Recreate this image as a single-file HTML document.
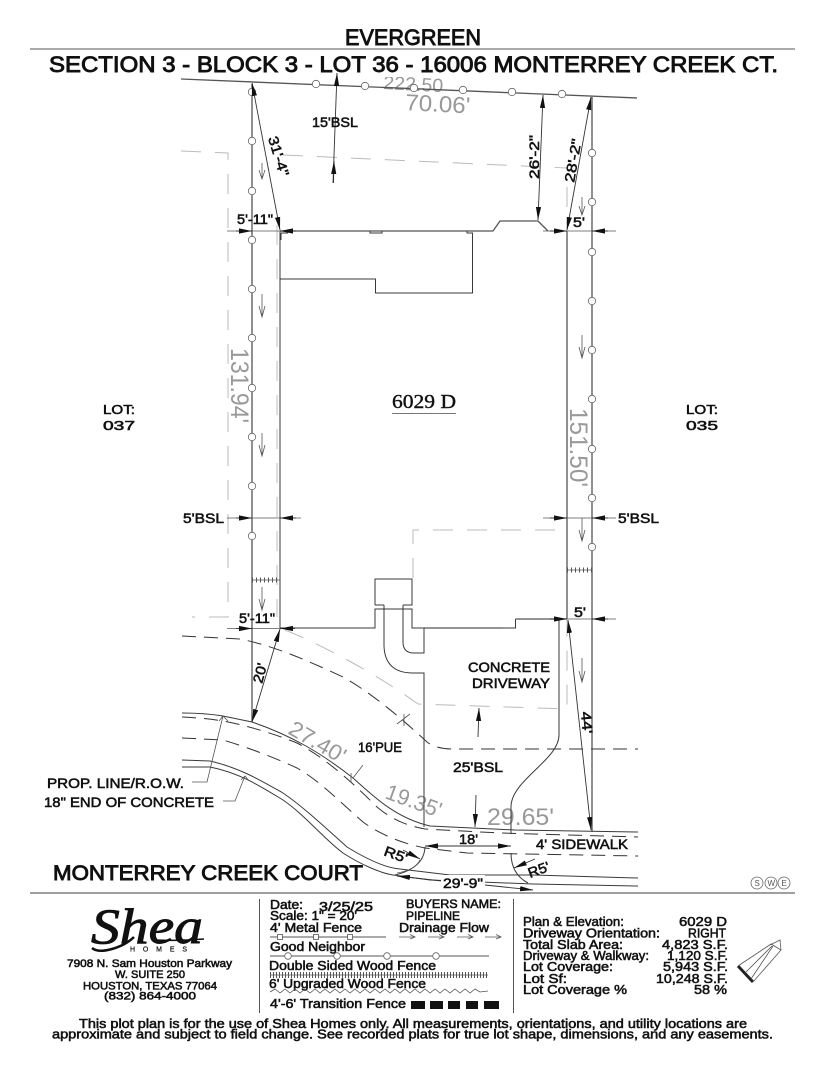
<!DOCTYPE html>
<html><head><meta charset="utf-8"><title>Plot Plan</title>
<style>
html,body{margin:0;padding:0;background:#fff;width:825px;height:1068px;overflow:hidden}
svg{display:block}
text{font-family:"Liberation Sans",sans-serif;fill:#111;stroke:#111;stroke-width:.55}
text.g{fill:#999;stroke:none}
text.hv{stroke-width:.9}
text.ser{font-family:"Liberation Serif",serif;stroke-width:.4}
text.sm{fill:#555;stroke:none}
text.logo{font-family:"Liberation Serif",serif;font-style:italic;stroke-width:.9}
text.ho{stroke-width:.2}
.l{fill:none;stroke:#3a3a3a;stroke-width:1}
.h{fill:none;stroke:#555;stroke-width:1.3}
.d{fill:none;stroke:#333;stroke-width:1;stroke-dasharray:14 8}
.b{fill:none;stroke:#bbb;stroke-width:1;stroke-dasharray:20 14}
.a{fill:none;stroke:#333;stroke-width:.9;marker-end:url(#m);marker-start:url(#m)}
.e{fill:none;stroke:#333;stroke-width:.9;marker-end:url(#m)}
.f{fill:none;stroke:#555;stroke-width:.8}
circle{fill:#fff;stroke:#666;stroke-width:.8}
</style></head><body>
<svg width="825" height="1068" viewBox="0 0 825 1068" xmlns="http://www.w3.org/2000/svg">
<defs>
<marker id="m" viewBox="0 0 13 6" refX="13" refY="3" markerWidth="13" markerHeight="6" markerUnits="userSpaceOnUse" orient="auto-start-reverse"><path d="M0 .4L13 3L0 5.600z" fill="#111"/></marker>
</defs>
<rect width="825" height="1068" fill="#fff"/>

<!-- gray lot dimension labels -->
<text class="g" transform="translate(383,89) rotate(3)" font-size="19" textLength="60" lengthAdjust="spacingAndGlyphs">222.50</text>
<rect x="340" y="60" width="150" height="17" fill="#fff"/>
<text class="g" transform="translate(405,110) rotate(3)" font-size="23" textLength="65" lengthAdjust="spacingAndGlyphs">70.06'</text>
<text class="g" transform="translate(231,348) rotate(90)" font-size="25" textLength="75" lengthAdjust="spacingAndGlyphs">131.94'</text>
<text class="g" transform="translate(570,408) rotate(90)" font-size="25" textLength="79" lengthAdjust="spacingAndGlyphs">151.50'</text>
<text class="g" transform="translate(287,733) rotate(30)" font-size="22" textLength="62" lengthAdjust="spacingAndGlyphs">27.40'</text>
<text class="g" transform="translate(384,798) rotate(20)" font-size="22" textLength="58" lengthAdjust="spacingAndGlyphs">19.35'</text>
<text class="g" x="487" y="825" font-size="24" textLength="67" lengthAdjust="spacingAndGlyphs">29.65'</text>

<!-- header -->
<line x1="30" y1="49" x2="795" y2="49" stroke="#777" stroke-width="1.2"/>
<text class="hv" x="345" y="45" font-size="22" textLength="136" lengthAdjust="spacingAndGlyphs">EVERGREEN</text>
<text class="hv" x="49" y="72" font-size="22" textLength="729" lengthAdjust="spacingAndGlyphs">SECTION 3 - BLOCK 3 - LOT 36 - 16006 MONTERREY CREEK CT.</text>

<!-- gray setback lines -->
<path class="b" d="M181 151L228 153L228 617L192 617"/>
<path class="b" d="M283 155L567 168"/>
<path class="b" d="M277 225V617"/>
<path class="b" d="M567 187V230"/>
<path class="b" d="M413 578V530H567"/>
<path class="b" d="M285 630C330 648 385 680 418 704L567 709V620"/>

<!-- property lines -->
<path class="h" d="M181 79L637 98"/>
<path class="h" d="M252 84V722"/>
<path class="h" d="M592 97V832"/>
<path class="h" d="M567 231V619"/>
<path class="l" d="M280 231V628"/>

<!-- house -->
<path class="h" d="M280 231H493L500 221H538L548 231"/>
<path class="l" d="M370 231V233H382V231M467 231V233H472.500V293H375.500V279H280"/>
<path class="l" d="M281 233V240M281 233H288"/>
<path class="l" d="M280 628H375V609H412V628H424"/>
<path class="l" d="M375 605V579H412V605H403"/>
<path class="l" d="M375 605H384"/>
<path class="h" d="M424 628H503"/>
<path class="l" d="M503 628H515.500V619"/>
<path class="h" d="M515.500 619H567"/>
<path class="l" d="M412 609V628H424V653H414Q403 653 403 642V605"/>
<path class="l" d="M384 605V646Q385 673 413 673H424V827"/>
<path class="l" d="M559 619V735C559 760 511 780 511 807V834"/>
<path class="l" d="M511 853Q511 874 528 883"/>
<path class="l" d="M425 847Q424 868 395 875"/>

<!-- street -->
<path class="l" d="M182 713Q205 713 223 716L252 722C290 735 320 752 353 778C372 795 395 818 430 826L515 830L638 832"/>
<path class="d" d="M182 717Q205 718 223 721C250 726 280 736 297 743C320 755 345 775 377 807C395 822 410 826 425 829L500 833L638 837"/>
<path class="d" d="M182 738L223 740C250 748 280 760 297 768C320 781 340 802 363 822C385 838 410 845 425 848L467 853L638 856"/>
<path class="l" d="M182 760L210 761C240 768 260 780 283 793C305 808 330 832 347 847C365 858 385 868 400 869L450 875L533 875L638 878"/>
<path class="l" d="M182 767L210 767C240 773 260 786 283 800C305 815 325 840 343 853C360 864 380 873 393 875L430 880L533 884L638 886"/>
<path class="d" d="M182 636L240 639C270 645 300 657 343 677C370 692 400 717 427 742C436 749 450 749 453 749H638"/>

<!-- fence circles -->
<g>
<circle cx="252" cy="92" r="3.700"/><circle cx="252" cy="141" r="3.700"/><circle cx="252" cy="191" r="3.700"/><circle cx="252" cy="240" r="3.700"/><circle cx="252" cy="289" r="3.700"/><circle cx="252" cy="338" r="3.700"/><circle cx="252" cy="388" r="3.700"/><circle cx="252" cy="437" r="3.700"/><circle cx="252" cy="486" r="3.700"/><circle cx="252" cy="536" r="3.700"/>
<circle cx="592" cy="153" r="3.700"/><circle cx="592" cy="202" r="3.700"/><circle cx="592" cy="252" r="3.700"/><circle cx="592" cy="301" r="3.700"/><circle cx="592" cy="350" r="3.700"/><circle cx="592" cy="399" r="3.700"/><circle cx="592" cy="449" r="3.700"/><circle cx="592" cy="498" r="3.700"/><circle cx="592" cy="547" r="3.700"/>
<circle cx="316" cy="84" r="3.700"/><circle cx="365" cy="86" r="3.700"/><circle cx="414" cy="88" r="3.700"/><circle cx="463" cy="90" r="3.700"/><circle cx="512" cy="92" r="3.700"/><circle cx="562" cy="94" r="3.700"/>
</g>
<line x1="252" y1="580" x2="280" y2="580" stroke="#555" stroke-width="5" stroke-dasharray="1 3"/>
<line x1="252" y1="580" x2="280" y2="580" stroke="#555" stroke-width=".8"/>
<line x1="567" y1="570" x2="592" y2="570" stroke="#555" stroke-width="5" stroke-dasharray="1 3"/>
<line x1="567" y1="570" x2="592" y2="570" stroke="#555" stroke-width=".8"/>

<!-- flow arrows -->
<g class="f">
<path d="M262 163V179M259 170L262 179L265 170"/>
<path d="M262 294V317M259 306L262 317L265 306"/>
<path d="M262 433V456M259 445L262 456L265 445"/>
<path d="M262 587V610M259 599L262 610L265 599"/>
<path d="M582 197V215M579 206L582 215L585 206"/>
<path d="M582 335V358M579 347L582 358L585 347"/>
<path d="M582 518V541M579 530L582 541L585 530"/>
<path d="M582 658V682M579 671L582 682L585 671"/>
</g>

<!-- dimensions -->
<path class="e" d="M333 183L337 73"/>
<path class="e" d="M333.500 183L334 161"/>
<path class="a" d="M543 95L538 220"/>
<path class="a" d="M591 97L567 230"/>
<path class="a" d="M252 83L280 230"/>
<path class="f" d="M227 231H293M543 231H616M227 518H301M543 518H616M227 628.500H295M530 619H616"/>
<path class="e" d="M236 231H252"/><path class="e" d="M296 231H280"/>
<path class="e" d="M550 231H567"/><path class="e" d="M608 231H592"/>
<path class="e" d="M236 518H252"/><path class="e" d="M296 518H280"/>
<path class="e" d="M550 518H567"/><path class="e" d="M608 518H592"/>
<path class="e" d="M236 628.500H252"/><path class="e" d="M295 628.500H280"/>
<path class="e" d="M550 619H567"/><path class="e" d="M608 619H592"/>
<path class="a" d="M280 629L252 722"/>
<path class="a" d="M568 620L591 830"/>
<path class="e" d="M478 737L479 708"/>
<path class="e" d="M476 795L475 827"/>
<path class="a" d="M425 846H511"/>
<path class="e" d="M442 881L397 876"/>
<path class="e" d="M485 885L533 890"/>
<path class="e" d="M535 859L514 868"/>
<path class="e" d="M403 850L420 859"/>
<path class="f" d="M420 860Q415 870 397 873"/>
<path class="f" d="M363 765L353 778M351 773V782"/>
<path class="f" d="M397 724L410 714M404 714V726"/>
<path class="f" d="M192 782H207L223 716M219 721L223 716L228 721"/>
<path class="f" d="M223 801H235L245 776M241 780L245 776L249 781"/>

<!-- labels -->
<g>
<text x="312" y="127" font-size="14" textLength="46" lengthAdjust="spacingAndGlyphs">15'BSL</text>
<text transform="translate(268,138) rotate(73)" font-size="14" textLength="41" lengthAdjust="spacingAndGlyphs">31'-4"</text>
<text transform="translate(539,179) rotate(-90)" font-size="14" textLength="44" lengthAdjust="spacingAndGlyphs">26'-2"</text>
<text transform="translate(574,183) rotate(-80)" font-size="14" textLength="44" lengthAdjust="spacingAndGlyphs">28'-2"</text>
<text x="237" y="224" font-size="14" textLength="36" lengthAdjust="spacingAndGlyphs">5'-11"</text>
<text x="573" y="227" font-size="14" textLength="12" lengthAdjust="spacingAndGlyphs">5'</text>
<text x="103" y="414" font-size="13" textLength="32" lengthAdjust="spacingAndGlyphs">LOT:</text>
<text x="103" y="430" font-size="13" textLength="32" lengthAdjust="spacingAndGlyphs">037</text>
<text x="686" y="414" font-size="13" textLength="32" lengthAdjust="spacingAndGlyphs">LOT:</text>
<text x="686" y="430" font-size="13" textLength="32" lengthAdjust="spacingAndGlyphs">035</text>
<text class="ser" x="392" y="408" font-size="20" textLength="64" lengthAdjust="spacingAndGlyphs">6029 D</text>
<line x1="392" y1="413.500" x2="456" y2="413.500" stroke="#777"/>
<text x="183" y="523" font-size="14" textLength="41" lengthAdjust="spacingAndGlyphs">5'BSL</text>
<text x="618" y="523" font-size="14" textLength="41" lengthAdjust="spacingAndGlyphs">5'BSL</text>
<text x="239" y="623" font-size="14" textLength="36" lengthAdjust="spacingAndGlyphs">5'-11"</text>
<text x="574" y="617" font-size="14" textLength="12" lengthAdjust="spacingAndGlyphs">5'</text>
<text x="468" y="672" font-size="14" textLength="82" lengthAdjust="spacingAndGlyphs">CONCRETE</text>
<text x="472" y="688" font-size="14" textLength="78" lengthAdjust="spacingAndGlyphs">DRIVEWAY</text>
<text transform="translate(262,684) rotate(-75)" font-size="14" textLength="20" lengthAdjust="spacingAndGlyphs">20'</text>
<text transform="translate(581,712) rotate(85)" font-size="14" textLength="22" lengthAdjust="spacingAndGlyphs">44'</text>
<text x="358" y="752" font-size="14" textLength="44" lengthAdjust="spacingAndGlyphs">16'PUE</text>
<text x="453" y="772" font-size="14" textLength="50" lengthAdjust="spacingAndGlyphs">25'BSL</text>
<text x="47" y="788" font-size="14" textLength="137" lengthAdjust="spacingAndGlyphs">PROP. LINE/R.O.W.</text>
<text x="44" y="807" font-size="14" textLength="170" lengthAdjust="spacingAndGlyphs">18" END OF CONCRETE</text>
<text x="459" y="844" font-size="14" textLength="19" lengthAdjust="spacingAndGlyphs">18'</text>
<text x="536" y="849" font-size="14" textLength="92" lengthAdjust="spacingAndGlyphs">4' SIDEWALK</text>
<text transform="translate(383,855) rotate(20)" font-size="14" textLength="24" lengthAdjust="spacingAndGlyphs">R5'</text>
<text transform="translate(530,878) rotate(-20)" font-size="14" textLength="22" lengthAdjust="spacingAndGlyphs">R5'</text>
<rect x="441" y="875" width="44" height="14" fill="#fff"/>
<text x="443" y="888" font-size="14" textLength="40" lengthAdjust="spacingAndGlyphs">29'-9"</text>
<text class="hv" x="53" y="880" font-size="21" textLength="310" lengthAdjust="spacingAndGlyphs">MONTERREY CREEK COURT</text>
</g>
<circle cx="757" cy="883" r="6"/><circle cx="771" cy="883" r="6"/><circle cx="784" cy="883" r="6"/>
<text class="sm" x="754.500" y="886" font-size="8">S</text><text class="sm" x="767.500" y="886" font-size="8">W</text><text class="sm" x="781.500" y="886" font-size="8">E</text>
<line x1="30" y1="893" x2="795" y2="893" stroke="#666" stroke-width="1.2"/>

<!-- logo block -->
<text class="logo" x="91" y="943" font-size="50" textLength="112" lengthAdjust="spacingAndGlyphs">Shea</text>
<path d="M92 948Q98 953 112 949T134 937" fill="none" stroke="#111" stroke-width="2.500"/>
<path d="M155 940Q180 941 204 939" fill="none" stroke="#111" stroke-width="1.500"/>
<text class="ho" x="130" y="951.500" font-size="7" textLength="57">HOMES</text>
<text x="67" y="967" font-size="11" textLength="165" lengthAdjust="spacingAndGlyphs">7908 N. Sam Houston Parkway</text>
<text x="115" y="978" font-size="11" textLength="70" lengthAdjust="spacingAndGlyphs">W. SUITE 250</text>
<text x="83" y="989.500" font-size="11" textLength="134" lengthAdjust="spacingAndGlyphs">HOUSTON, TEXAS 77064</text>
<text x="104" y="999.500" font-size="11" textLength="92" lengthAdjust="spacingAndGlyphs">(832) 864-4000</text>

<line x1="259.500" y1="899" x2="259.500" y2="1013" stroke="#555"/>
<line x1="513.500" y1="899" x2="513.500" y2="1013" stroke="#555"/>

<!-- legend -->
<text x="270" y="909" font-size="12.500" textLength="33" lengthAdjust="spacingAndGlyphs">Date:</text>
<text x="319" y="911" font-size="12.500" textLength="54" lengthAdjust="spacingAndGlyphs">3/25/25</text>
<text x="270" y="920" font-size="12.500" textLength="87" lengthAdjust="spacingAndGlyphs">Scale: 1" = 20'</text>
<text x="406" y="908" font-size="12" textLength="95" lengthAdjust="spacingAndGlyphs">BUYERS NAME:</text>
<text x="406" y="920" font-size="12" textLength="54" lengthAdjust="spacingAndGlyphs">PIPELINE</text>
<text x="270" y="932" font-size="13" textLength="92" lengthAdjust="spacingAndGlyphs">4' Metal Fence</text>
<text x="399" y="932" font-size="13" textLength="90" lengthAdjust="spacingAndGlyphs">Drainage Flow</text>
<text x="270" y="951" font-size="13" textLength="95" lengthAdjust="spacingAndGlyphs">Good Neighbor</text>
<text x="269" y="970" font-size="13" textLength="167" lengthAdjust="spacingAndGlyphs">Double Sided Wood Fence</text>
<text x="269" y="988" font-size="13" textLength="157" lengthAdjust="spacingAndGlyphs">6' Upgraded Wood Fence</text>
<text x="270" y="1008" font-size="13" textLength="136" lengthAdjust="spacingAndGlyphs">4'-6' Transition Fence</text>
<line x1="270" y1="937" x2="386" y2="937" stroke="#555"/>
<g fill="#fff" stroke="#555" stroke-width=".8"><rect x="277.500" y="934.500" width="5" height="5"/><rect x="313.500" y="934.500" width="5" height="5"/><rect x="347.500" y="934.500" width="5" height="5"/></g>
<g class="f"><path d="M399 937H415M410 934.500L415 937L410 939"/><path d="M428 937H444M439 934.500L444 937L439 939"/><path d="M457 937H473M468 934.500L473 937L468 939"/><path d="M485 937H501M496 934.500L501 937L496 939"/></g>
<line x1="270" y1="956" x2="489" y2="956" stroke="#555"/>
<circle cx="288" cy="956" r="3.300"/><circle cx="337" cy="956" r="3.300"/><circle cx="387" cy="956" r="3.300"/><circle cx="436" cy="956" r="3.300"/>
<line x1="270" y1="975" x2="488" y2="975" stroke="#555" stroke-width="6" stroke-dasharray="1 2"/>
<line x1="270" y1="975" x2="488" y2="975" stroke="#555" stroke-width=".8"/>
<polyline fill="none" stroke="#555" stroke-width=".8" points="270,992 275,989 280,993 285,989 290,993 295,989 300,993 305,989 310,993 315,989 320,993 325,989 330,993 335,989 340,993 345,989 350,993 355,989 360,993 365,989 370,993 375,989 380,993 385,989 390,993 395,989 400,993 405,989 410,993 415,989 420,993 425,989 430,993 435,989 440,993 445,989 450,993 455,989 460,993 465,989 470,993 475,989 480,992 488,991"/>
<g fill="#111"><rect x="411" y="1001" width="14" height="8"/><rect x="430" y="1001" width="13" height="8"/><rect x="448" y="1001" width="12" height="8"/><rect x="466" y="1001" width="12" height="8"/><rect x="484" y="1001" width="15" height="8"/></g>

<!-- info table -->
<text x="523" y="926" font-size="13" textLength="101" lengthAdjust="spacingAndGlyphs">Plan &amp; Elevation:</text>
<text x="679" y="926" font-size="13" textLength="48" lengthAdjust="spacingAndGlyphs">6029 D</text>
<text x="523" y="937.500" font-size="13" textLength="137" lengthAdjust="spacingAndGlyphs">Driveway Orientation:</text>
<text x="688" y="937.500" font-size="13" textLength="38" lengthAdjust="spacingAndGlyphs">RIGHT</text>
<text x="523" y="949" font-size="13" textLength="100" lengthAdjust="spacingAndGlyphs">Total Slab Area:</text>
<text x="662" y="949" font-size="13" textLength="66" lengthAdjust="spacingAndGlyphs">4,823 S.F.</text>
<text x="523" y="960" font-size="13" textLength="126" lengthAdjust="spacingAndGlyphs">Driveway &amp; Walkway:</text>
<text x="667" y="960" font-size="13" textLength="61" lengthAdjust="spacingAndGlyphs">1,120 S.F.</text>
<text x="523" y="971" font-size="13" textLength="90" lengthAdjust="spacingAndGlyphs">Lot Coverage:</text>
<text x="663" y="971" font-size="13" textLength="65" lengthAdjust="spacingAndGlyphs">5,943 S.F.</text>
<text x="523" y="983" font-size="13" textLength="44" lengthAdjust="spacingAndGlyphs">Lot Sf:</text>
<text x="656" y="983" font-size="13" textLength="72" lengthAdjust="spacingAndGlyphs">10,248 S.F.</text>
<text x="523" y="994" font-size="13" textLength="104" lengthAdjust="spacingAndGlyphs">Lot Coverage %</text>
<text x="694" y="994" font-size="13" textLength="33" lengthAdjust="spacingAndGlyphs">58 %</text>

<!-- north arrow -->
<path d="M738 966L753 982" stroke="#222" stroke-width="3" fill="none"/>
<path d="M738 966L771 944L781 950L753 982M745 973L772 946M751 979L773 946M770 945L780 940L781 950" fill="none" stroke="#555" stroke-width=".8"/>

<!-- footer note -->
<text x="79" y="1028" font-size="13" textLength="668" lengthAdjust="spacingAndGlyphs">This plot plan is for the use of Shea Homes only. All measurements, orientations, and utility locations are</text>
<text x="52" y="1038.500" font-size="13" textLength="721" lengthAdjust="spacingAndGlyphs">approximate and subject to field change. See recorded plats for true lot shape, dimensions, and any easements.</text>
</svg>
</body></html>
